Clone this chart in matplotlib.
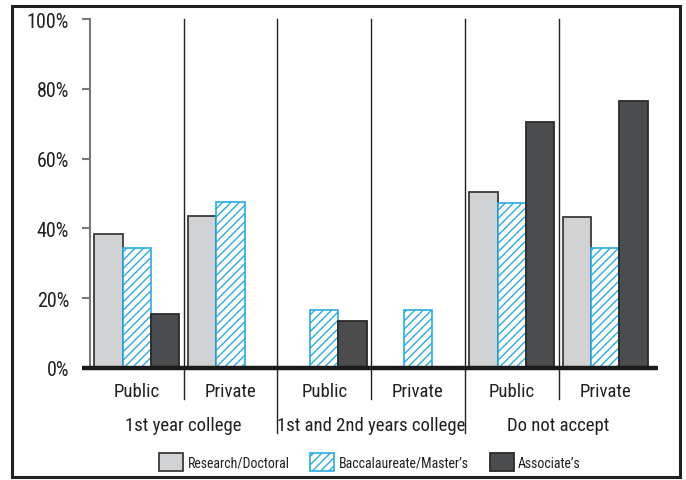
import matplotlib as mpl
mpl.use('Agg')
import matplotlib.pyplot as plt
from matplotlib import font_manager
from matplotlib.patches import Rectangle
import numpy as np

# pick the narrowest installed sans that is available
fonts = [(f.name, f.stretch) for f in font_manager.fontManager.ttflist]
names = {n for n, _ in fonts}
stretch = 'normal'
family = 'Roboto'
for cand in ['Liberation Sans Narrow', 'Roboto Condensed', 'Open Sans Condensed',
             'DejaVu Sans Condensed']:
    if cand in names:
        family = cand
        break
else:
    if any(n == 'DejaVu Sans' and s in ('condensed', 'semi-condensed', 500, 400) and s != 'normal'
           for n, s in fonts):
        family, stretch = 'DejaVu Sans', 'condensed'
plt.rcParams['font.family'] = [family, 'DejaVu Sans']
plt.rcParams['font.stretch'] = stretch
plt.rcParams['hatch.linewidth'] = 1.0

# data (percent)
groups = ['1st year college', '1st and 2nd years college', 'Do not accept']
sectors = ['Public', 'Private']
series = ['Research/Doctoral', 'Baccalaureate/Master\u2019s', 'Associate\u2019s']
research = [38.5, 43.5, 0, 0, 50.5, 43.4]
bacc = [34.3, 47.5, 16.7, 16.5, 47.4, 34.3]
assoc = [15.5, 0, 13.4, 0, 70.5, 76.5]
yticks = [0, 20, 40, 60, 80, 100]

txt = '#231f20'
W, H = 686, 481
fig = plt.figure(figsize=(W / 100, H / 100), dpi=100)

# axes placed in pixels: y axis at x=90, 0% at y=369, 100% at y=20
ax_l, ax_r, ax_t, ax_b = 90, 658, 20, 369
ax = fig.add_axes([ax_l / W, 1 - ax_b / H, (ax_r - ax_l) / W, (ax_b - ax_t) / H])
panel_px = 93.7
ax.set_xlim(0, (ax_r - ax_l) / panel_px)
ax.set_ylim(0, 100)

bw = 0.302
x = np.arange(6) + 0.5
styles = [
    dict(color='#d1d2d4', edgecolor='#3a3a3a', linewidth=1.3),
    dict(color='white', edgecolor='#29abe2', hatch='////', linewidth=1.2),
    dict(color='#4b4c4e', edgecolor='#2a2a2a', linewidth=1.3),
]
handles = []
for j, vals in enumerate([research, bacc, assoc]):
    v = np.array(vals, dtype=float)
    keep = v > 0
    b = ax.bar(x[keep] + (j - 1) * bw, v[keep], width=bw, zorder=2, **styles[j])
    handles.append(b)

# panel dividers
ytr = ax.get_xaxis_transform()
for i in range(1, 6):
    low = -0.186 if i % 2 == 0 else -0.089
    ax.plot([i, i], [low, 1.0], color='#222222', lw=1.0, transform=ytr,
            clip_on=False, zorder=1)

# thick baseline
ax.plot([-8 / (ax_r - ax_l), 1.0], [0, 0], color='#1a1a1a', lw=3.2,
        transform=ax.get_yaxis_transform(), clip_on=False, zorder=3,
        solid_capstyle='butt')

for s in ['top', 'right', 'bottom']:
    ax.spines[s].set_visible(False)
ax.spines['left'].set_color('#7a7a7a')
ax.spines['left'].set_linewidth(1.5)
ax.set_yticks(yticks)
ax.set_yticklabels([f'{t}%' for t in yticks], fontsize=14.5, color=txt)
ax.tick_params(axis='y', length=6, width=1.5, color='#7a7a7a', pad=9)
ax.set_xticks([])

for i in range(6):
    ax.text(x[i], -0.066, sectors[i % 2], transform=ytr, ha='center',
            va='center', fontsize=13.5, color=txt)
for g, name in enumerate(groups):
    ax.text(2 * g + 1, -0.162, name, transform=ytr, ha='center',
            va='center', fontsize=13.5, color=txt)

fig.legend(handles, series, loc='center', bbox_to_anchor=(370 / W, 1 - 463 / H),
           ncol=3, frameon=False, fontsize=10, handlelength=1.73,
           handleheight=1.65, handletextpad=0.31, columnspacing=1.5,
           labelcolor=txt)

# outer frame
fig.patches.append(Rectangle((12 / W, 3 / H), 668 / W, 471 / H, transform=fig.transFigure,
                             fill=False, edgecolor='#231f20', lw=2.2))

fig.savefig('out.png', dpi=100)
